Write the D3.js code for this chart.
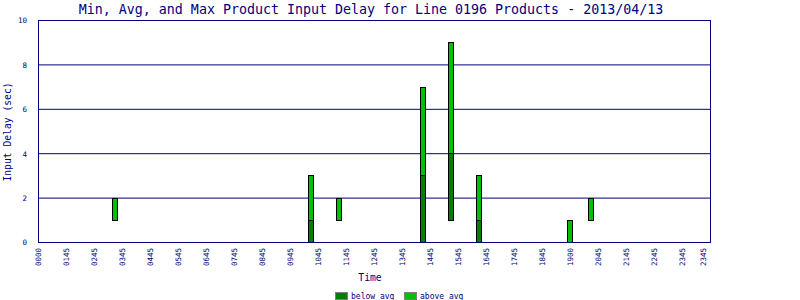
<!DOCTYPE html>
<html>
<head>
	<meta charset="utf-8">
	<title>Input Delay</title>
	<script type="text/javascript" src="https://cdn.jsdelivr.net/npm/d3@7"></script>
	<style type="text/css">
		body{ margin:0; background-color:#fff; }
		text{ font-family:"DejaVu Sans Mono", monospace; fill:#000080; }
	</style>
</head>
<body>
<div class="paint"></div>
<script type="text/javascript">
	// axis ticks (hour of day -> label)
	var tickHours = [0,1,2,3,4,5,6,7,8,9,10,11,12,13,14,15,16,17,18,19,20,21,22,23,23.75];
	var tickLabels = ['0000','0145','0245','0345','0445','0545','0645','0745','0845','0945','1045','1145','1245','1345','1445','1545','1645','1745','1845','1900','2045','2145','2245','2345','2345'];
	var yTicks = [0,2,4,6,8,10];

	// bars: hour position, min, avg, max delay
	var barHours = [2.75, 9.75, 10.75, 13.75, 14.75, 15.75, 19, 19.75];
	var minDelay = [1, 0, 1, 0, 1, 0, 0, 1];
	var avgDelay = [1, 1, 1, 3, 4, 1, 0, 1];
	var maxDelay = [2, 3, 2, 7, 9, 3, 1, 2];

	var W = 800, H = 300;
	var pLeft = 38, pRight = 710, pTop = 20, pBottom = 242;
	var navy = '#000080';

	var svg = d3.select('.paint').append('svg').attr('width', W).attr('height', H);

	var x = d3.scaleLinear().domain([0, 24]).range([pLeft, pRight]);
	var y = d3.scaleLinear().domain([0, 10]).range([pBottom, pTop]);

	// title
	svg.append('text').text('Min, Avg, and Max Product Input Delay for Line 0196 Products - 2013/04/13')
		.attr('x', 371).attr('y', 14)
		.style('text-anchor', 'middle').style('font-size', '13.3px');

	// grid lines
	svg.append('g').selectAll('line').data(yTicks.slice(1, -1)).enter().append('line')
		.attr('x1', pLeft).attr('x2', pRight)
		.attr('y1', function(d){ return y(d) + 0.5; })
		.attr('y2', function(d){ return y(d) + 0.5; })
		.attr('stroke', navy).attr('stroke-width', 1);

	// y axis
	var yAxis = svg.append('g').attr('transform', 'translate(' + (pLeft - 11) + ',0.5)')
		.call(d3.axisLeft(y).tickValues(yTicks).tickSize(0).tickPadding(0));
	yAxis.select('.domain').remove();
	yAxis.selectAll('text').style('font-size', '7.5px').style('font-family', '"DejaVu Sans Mono", monospace').attr('fill', navy);

	// x axis
	var xAxis = svg.append('g').attr('transform', 'translate(0,' + (pBottom + 6) + ')')
		.call(d3.axisBottom(x).tickValues(tickHours).tickSize(0)
			.tickFormat(function(d, i){ return tickLabels[i]; }));
	xAxis.select('.domain').remove();
	xAxis.selectAll('text')
		.attr('transform', 'rotate(-90)')
		.attr('x', 0).attr('y', 0).attr('dy', '0.35em')
		.style('text-anchor', 'end')
		.style('font-size', '7.5px').style('font-family', '"DejaVu Sans Mono", monospace').attr('fill', navy);

	// bars
	var bars = svg.append('g');
	barHours.forEach(function(h, i){
		var cx = Math.round(x(h));
		if(avgDelay[i] > minDelay[i]){
			bars.append('rect')
				.attr('x', cx - 2.5).attr('width', 5)
				.attr('y', Math.round(y(avgDelay[i])) + 0.5)
				.attr('height', Math.round(y(minDelay[i])) - Math.round(y(avgDelay[i])))
				.attr('fill', '#008000').attr('stroke', '#000');
		}
		bars.append('rect')
			.attr('x', cx - 2.5).attr('width', 5)
			.attr('y', Math.round(y(maxDelay[i])) + 0.5)
			.attr('height', Math.round(y(avgDelay[i])) - Math.round(y(maxDelay[i])))
			.attr('fill', '#00c000').attr('stroke', '#000');
	});

	// frame
	svg.append('rect').attr('x', pLeft + 0.5).attr('y', pTop + 0.5)
		.attr('width', pRight - pLeft).attr('height', pBottom - pTop)
		.attr('fill', 'none').attr('stroke', navy);

	// axis titles
	svg.append('text').text('Time').attr('x', 370).attr('y', 281)
		.style('text-anchor', 'middle').style('font-size', '9.7px');
	svg.append('text').text('Input Delay (sec)')
		.attr('transform', 'translate(11,132) rotate(-90)')
		.style('text-anchor', 'middle').style('font-size', '9.7px');

	// legend
	var legend = [{label:'below avg', color:'#008000', x:335}, {label:'above avg', color:'#00c000', x:404}];
	var lg = svg.append('g').selectAll('g').data(legend).enter().append('g');
	lg.append('rect').attr('x', function(d){ return d.x + 0.5; }).attr('y', 292.5)
		.attr('width', 12).attr('height', 7)
		.attr('fill', function(d){ return d.color; }).attr('stroke', '#808080');
	lg.append('text').text(function(d){ return d.label; })
		.attr('x', function(d){ return d.x + 16; }).attr('y', 299)
		.style('font-size', '8px');
</script>
</body>
</html>
